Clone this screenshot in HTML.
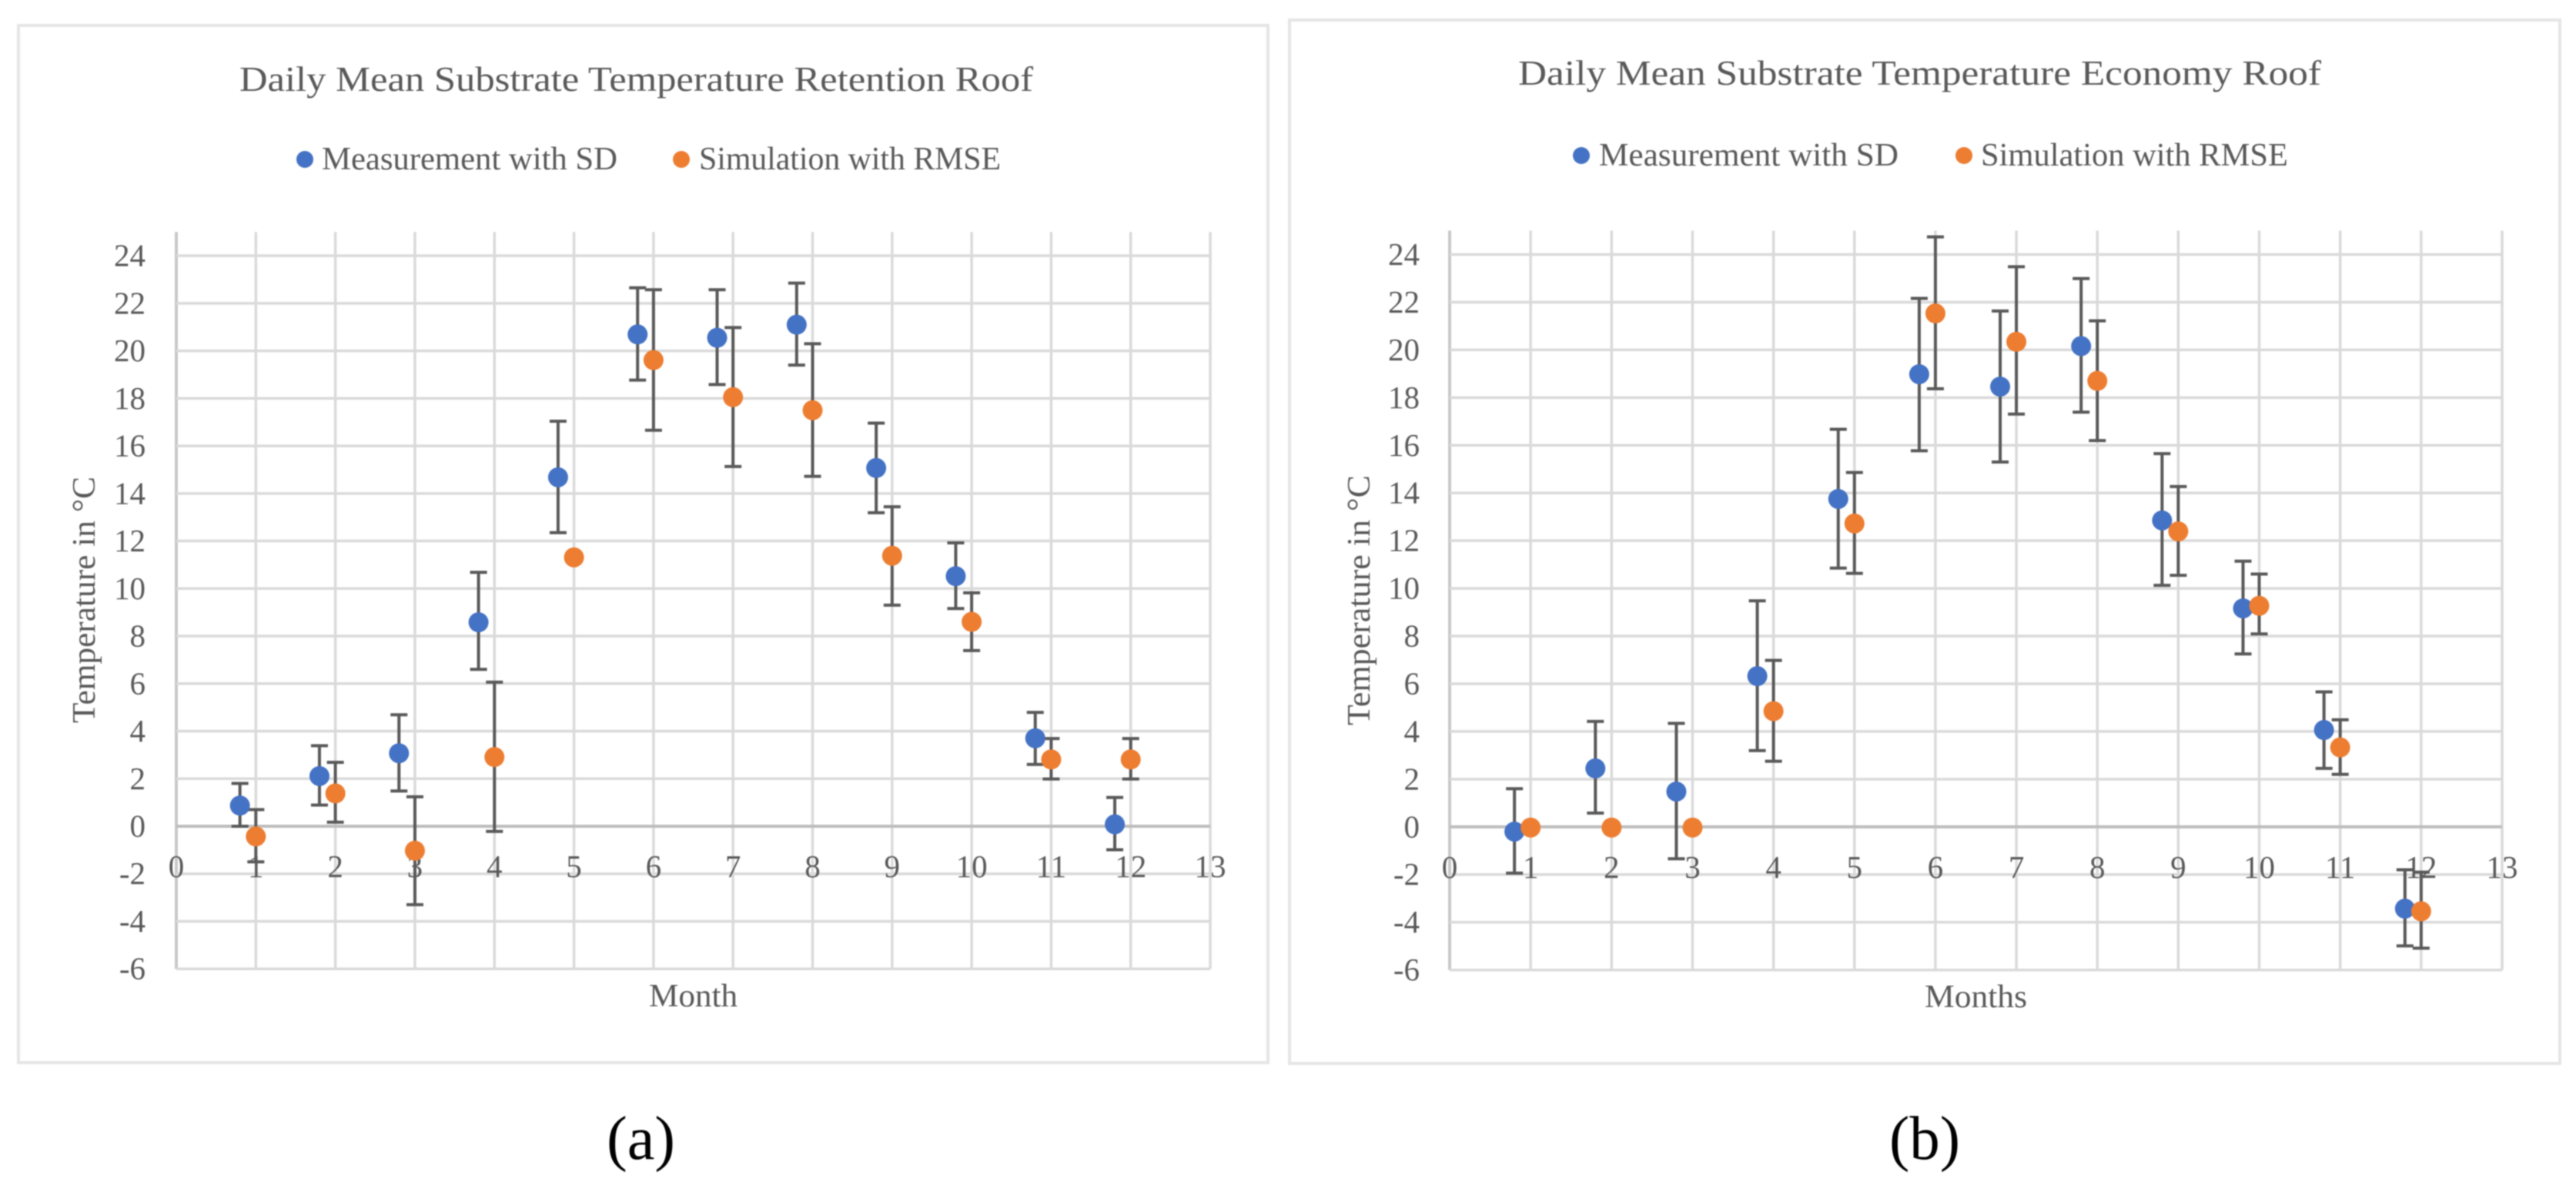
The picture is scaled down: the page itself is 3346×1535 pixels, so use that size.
<!DOCTYPE html>
<html lang="en">
<head>
<meta charset="utf-8">
<title>Daily Mean Substrate Temperature</title>
<style>
html,body{margin:0;padding:0;background:#fff;}
svg{display:block;filter:blur(0.7px);}
text{font-family:"Liberation Serif",serif;fill:#595959;}
</style>
</head>
<body>
<svg id="figure" width="3346" height="1535" viewBox="0 0 3346 1535" xmlns="http://www.w3.org/2000/svg">
  <rect x="0" y="0" width="3346" height="1535" fill="#ffffff"/>
  <g id="chart-a">
    <rect x="24" y="33" width="1623" height="1347" fill="#fff" stroke="#e6e6e6" stroke-width="4"/>
    <text x="311" y="118" font-size="46" textLength="1031" lengthAdjust="spacingAndGlyphs">Daily Mean Substrate Temperature Retention Roof</text>
    <circle cx="396" cy="207" r="11" fill="#4472c4"/>
    <text x="418" y="220" font-size="42" textLength="384" lengthAdjust="spacingAndGlyphs">Measurement with SD</text>
    <circle cx="885" cy="207" r="11" fill="#ed7d31"/>
    <text x="908" y="220" font-size="42" textLength="392" lengthAdjust="spacingAndGlyphs">Simulation with RMSE</text>
    <text x="843" y="1307" font-size="42" textLength="115" lengthAdjust="spacingAndGlyphs">Month</text>
    <text transform="translate(123 939) rotate(-90)" font-size="42" textLength="320" lengthAdjust="spacingAndGlyphs">Temperature in °C</text>
    <text x="788" y="1505" font-size="80" textLength="89" lengthAdjust="spacingAndGlyphs" style="fill:#000">(a)</text>
  </g>
  <g id="chart-b">
    <rect x="1675" y="26" width="1650" height="1355" fill="#fff" stroke="#e6e6e6" stroke-width="4"/>
    <text x="1972" y="110" font-size="46" textLength="1043" lengthAdjust="spacingAndGlyphs">Daily Mean Substrate Temperature Economy Roof</text>
    <circle cx="2054" cy="202" r="11" fill="#4472c4"/>
    <text x="2077" y="215" font-size="42" textLength="389" lengthAdjust="spacingAndGlyphs">Measurement with SD</text>
    <circle cx="2551" cy="202" r="11" fill="#ed7d31"/>
    <text x="2573" y="215" font-size="42" textLength="399" lengthAdjust="spacingAndGlyphs">Simulation with RMSE</text>
    <text x="2500" y="1308" font-size="42" textLength="133" lengthAdjust="spacingAndGlyphs">Months</text>
    <text transform="translate(1779 942) rotate(-90)" font-size="42" textLength="325" lengthAdjust="spacingAndGlyphs">Temperature in °C</text>
    <text x="2454" y="1505" font-size="80" textLength="92" lengthAdjust="spacingAndGlyphs" style="fill:#000">(b)</text>
  </g>
</svg>
<script>
// Shared axis tick labels
const xTickLabels = [0,1,2,3,4,5,6,7,8,9,10,11,12,13];
const yTickLabels = [24,22,20,18,16,14,12,10,8,6,4,2,0,-2,-4,-6];

// Measurement points are plotted slightly left of each month
const measureMonths = [0.8,1.8,2.8,3.8,4.8,5.8,6.8,7.8,8.8,9.8,10.8,11.8];
const simMonths = [1,2,3,4,5,6,7,8,9,10,11,12];

// Chart (a) Retention roof
const retentionMeasure = [0.87,2.11,3.07,8.58,14.68,20.69,20.55,21.1,15.07,10.52,3.7,0.08];
const retentionMeasureHigh = [1.8,3.39,4.69,10.68,17.04,22.65,22.57,22.85,16.96,11.92,4.79,1.21];
const retentionMeasureLow = [0,0.89,1.48,6.6,12.35,18.77,18.58,19.4,13.19,9.16,2.6,-0.99];
const retentionSim = [-0.43,1.38,-1.03,2.91,11.31,19.61,18.05,17.5,11.38,8.6,2.81,2.81];
const retentionSimHigh = [0.7,2.69,1.24,6.06,null,22.57,20.98,20.3,13.44,9.82,3.69,3.69];
const retentionSimLow = [-1.5,0.17,-3.3,-0.22,null,16.66,15.13,14.72,9.3,7.39,1.99,1.99];

// Chart (b) Economy roof
const economyMeasure = [-0.2,2.45,1.48,6.32,13.75,18.98,18.46,20.16,12.85,9.16,4.06,-3.43];
const economyMeasureHigh = [1.6,4.42,4.34,9.48,16.67,22.16,21.63,22.99,15.65,11.14,5.66,-1.8];
const economyMeasureLow = [-1.94,0.58,-1.34,3.2,10.85,15.77,15.3,17.39,10.13,7.25,2.45,-4.99];
const economySim = [-0.03,-0.03,-0.03,4.85,12.72,21.53,20.34,18.7,12.39,9.27,3.33,-3.54];
const economySimHigh = [null,null,null,6.98,14.86,24.74,23.49,21.22,14.27,10.6,4.49,-1.9];
const economySimLow = [null,null,null,2.75,10.63,18.37,17.31,16.2,10.55,8.09,2.2,-5.09];

const SVG_NS = 'http://www.w3.org/2000/svg';
function make(tag, attrs, parent) {
  const el = document.createElementNS(SVG_NS, tag);
  for (const k in attrs) el.setAttribute(k, attrs[k]);
  parent.appendChild(el);
  return el;
}

function drawChart(groupId, box, series) {
  const group = document.getElementById(groupId);
  const xScale = v => box.x0 + v * (box.x13 - box.x0) / 13;
  const yScale = v => box.y0 - v * box.unit;
  const top = yScale(25);
  const bottom = yScale(-6);

  xTickLabels.forEach(t => {
    const line = make('line', {x1:xScale(t), x2:xScale(t), y1:top, y2:bottom, stroke:t === 0 ? '#c8c8c8' : '#dadada', 'stroke-width':t === 0 ? 4 : 3.5}, group);
    
    
  });
  yTickLabels.forEach(t => {
    const line = make('line', {x1:box.x0, x2:box.x13, y1:yScale(t), y2:yScale(t), stroke:t === 0 ? '#bdbdbd' : '#dadada', 'stroke-width':t === 0 ? 4 : 3.5}, group);
    
    
    const label = make('text', {x:box.yLabelX, y:yScale(t) + 13.5, 'font-size':41, 'text-anchor':'end'}, group);
    label.textContent = String(t);
    
    
  });
  xTickLabels.forEach(t => {
    const label = make('text', {x:xScale(t), y:yScale(0) + 66, 'font-size':41, 'text-anchor':'middle'}, group);
    label.textContent = String(t);
    
    
  });

  series.forEach(s => {
    s.xs.forEach((xv, i) => {
      if (s.high[i] === null) return;
      const x = xScale(xv), hi = yScale(s.high[i]), lo = yScale(s.low[i]);
      const err = make('path', {
        d: 'M' + x + ' ' + hi + 'V' + lo + 'M' + (x - 11) + ' ' + hi + 'H' + (x + 11) + 'M' + (x - 11) + ' ' + lo + 'H' + (x + 11),
        stroke:'#595959', 'stroke-width':4, fill:'none'
      }, group);
      
      
    });
  });
  series.forEach(s => {
    s.xs.forEach((xv, i) => {
      const dot = make('circle', {cx:xScale(xv), cy:yScale(s.mean[i]), r:13, fill:s.color}, group);
      
      
    });
  });
}

drawChart('chart-a', {x0:229, x13:1572, y0:1073, unit:30.87, yLabelX:189}, [
  {name:'measurement-point', color:'#4472c4', xs:measureMonths, mean:retentionMeasure, high:retentionMeasureHigh, low:retentionMeasureLow},
  {name:'simulation-point', color:'#ed7d31', xs:simMonths, mean:retentionSim, high:retentionSimHigh, low:retentionSimLow}
]);
drawChart('chart-b', {x0:1883, x13:3250, y0:1073.8, unit:30.97, yLabelX:1844}, [
  {name:'measurement-point', color:'#4472c4', xs:measureMonths, mean:economyMeasure, high:economyMeasureHigh, low:economyMeasureLow},
  {name:'simulation-point', color:'#ed7d31', xs:simMonths, mean:economySim, high:economySimHigh, low:economySimLow}
]);
</script>
</body>
</html>
